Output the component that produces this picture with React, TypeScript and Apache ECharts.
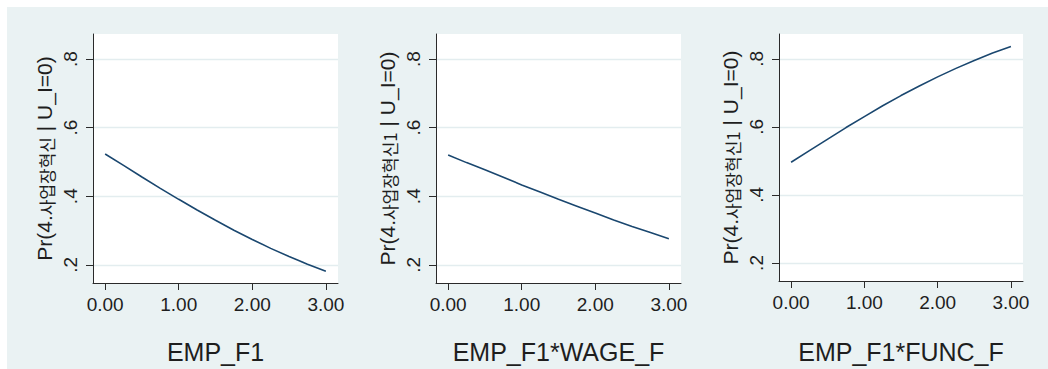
import React, { useEffect, useRef } from "react";
import * as echarts from "echarts";

const xValues = [0, 0.25, 0.5, 0.75, 1, 1.25, 1.5, 1.75, 2, 2.25, 2.5, 2.75, 3];
const empF1 = [0.523, 0.49, 0.456, 0.423, 0.391, 0.36, 0.33, 0.301, 0.274, 0.248, 0.224, 0.202, 0.181];
const empWage = [0.52, 0.498, 0.477, 0.455, 0.433, 0.412, 0.391, 0.371, 0.351, 0.331, 0.312, 0.294, 0.276];
const empFunc = [0.496, 0.53, 0.564, 0.598, 0.63, 0.662, 0.692, 0.72, 0.747, 0.772, 0.795, 0.817, 0.836];

const xTicks = [0, 1, 2, 3];
const yTicks = [0.2, 0.4, 0.6, 0.8];
const xTitles = ["EMP_F1", "EMP_F1*WAGE_F", "EMP_F1*FUNC_F"];
const yTitleKorean = ["사업장혁신", "사업장혁신1", "사업장혁신1"];
const seriesList = [empF1, empWage, empFunc];

const gridLefts = [86, 429, 772];
const gridWidths = [245, 245, 244];

export default function App() {
  const ref = useRef<HTMLDivElement>(null);
  useEffect(() => {
    if (!ref.current) return;
    const chart = echarts.init(ref.current, null, { renderer: "svg" });
    const latin = "'Liberation Sans', Arial, sans-serif";
    const textColor = "#1e1e1e";
    const axisColor = "#2a2a2a";
    const option: any = {
      animation: false,
      backgroundColor: "#eaf2f3",
      grid: seriesList.map((_, i) => ({
        left: gridLefts[i],
        top: 27,
        width: gridWidths[i],
        height: 252,
        show: true,
        backgroundColor: "#ffffff",
        borderWidth: 0,
      })),
      xAxis: seriesList.map((_, i) => ({
        type: "value",
        gridIndex: i,
        min: -0.165,
        max: 3.165,
        name: xTitles[i],
        nameLocation: "middle",
        nameGap: i === 2 ? 58 : 56,
        nameTextStyle: { fontSize: 25, fontFamily: latin, color: textColor },
        axisLine: { show: true, onZero: false, lineStyle: { color: axisColor, width: 1 } },
        axisTick: { show: true, length: 7, customValues: xTicks, lineStyle: { color: axisColor } },
        axisLabel: {
          customValues: xTicks,
          margin: 12,
          fontSize: 19,
          fontFamily: latin,
          color: textColor,
          formatter: (v: number) => v.toFixed(2),
        },
        splitLine: { show: false },
      })),
      yAxis: seriesList.map((_, i) => ({
        type: "value",
        gridIndex: i,
        min: 0.147,
        max: 0.873,
        name: "{a|Pr(4.}{k|" + yTitleKorean[i] + "}{a| | U_I=0)}",
        nameLocation: "middle",
        nameRotate: 90,
        nameGap: 38,
        nameTextStyle: {
          color: textColor,
          rich: {
            a: { fontSize: 21, fontFamily: latin, color: textColor },
            k: { fontSize: 17, fontFamily: "'Noto Sans CJK KR', sans-serif", color: textColor, verticalAlign: "bottom" },
          },
        },
        axisLine: { show: true, onZero: false, lineStyle: { color: axisColor, width: 1 } },
        axisTick: { show: true, length: 7, customValues: yTicks, lineStyle: { color: axisColor } },
        axisLabel: {
          customValues: yTicks,
          rotate: 90,
          margin: 13,
          fontSize: 19,
          fontFamily: latin,
          color: textColor,
          formatter: (v: number) => v.toFixed(1).replace(/^0/, ""),
        },
        splitLine: { show: true, lineStyle: { color: "#e3edef", width: 1.3 } },
      })),
      series: seriesList.map((vals, i) => ({
        type: "line",
        xAxisIndex: i,
        yAxisIndex: i,
        data: xValues.map((x, j) => [x, vals[j]]),
        showSymbol: false,
        symbol: "none",
        lineStyle: { color: "#1a476f", width: 1.6 },
      })),
    };
    chart.setOption(option);
    return () => chart.dispose();
  }, []);
  return (
    <div
      ref={ref}
      style={{ position: "fixed", left: 7, top: 7, width: 1041, height: 362 }}
    />
  );
}
